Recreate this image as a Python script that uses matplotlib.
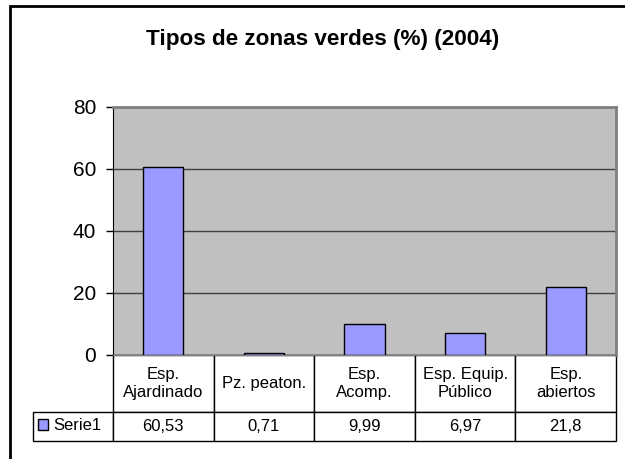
import matplotlib.pyplot as plt
from matplotlib.patches import Rectangle

categorias = ["Esp.\nAjardinado", "Pz. peaton.", "Esp.\nAcomp.", "Esp. Equip.\nPúblico", "Esp.\nabiertos"]
valores = [60.53, 0.71, 9.99, 6.97, 21.8]
etiquetas = ["60,53", "0,71", "9,99", "6,97", "21,8"]
serie = "Serie1"
yticks = [0, 20, 40, 60, 80]

plt.rcParams["font.family"] = ["Liberation Sans", "DejaVu Sans"]

fig = plt.figure(figsize=(6.25, 4.59), dpi=100)
ax = fig.add_axes([113 / 625, 1 - 355 / 459, 503 / 625, 248 / 459])

# outer chart frame (runs off the right/bottom of the picture)
fig.patches.append(Rectangle((10 / 625, -0.1), 1.2, 1.1 - 6 / 459, transform=fig.transFigure,
                             fill=False, edgecolor="black", linewidth=2))

ax.set_facecolor("#C0C0C0")
x = range(len(valores))
bars = ax.bar(x, valores, width=0.4, color="#9999FF", edgecolor="black", linewidth=1, zorder=3)
ax.set_xlim(-0.5, len(valores) - 0.5)
ax.set_ylim(0, 80)
ax.set_yticks(yticks)
ax.tick_params(axis="y", labelsize=15, length=5, width=1, direction="out", pad=7)
ax.set_xticks([])
ax.grid(axis="y", color="#404040", linewidth=1, zorder=1)
for s in ["top", "right"]:
    ax.spines[s].set_color("#808080")
    ax.spines[s].set_linewidth(2)
ax.spines["bottom"].set_color("#808080")
ax.spines["left"].set_color("black")

fig.text(323 / 625, 1 - 40 / 459, "Tipos de zonas verdes (%) (2004)", ha="center", va="center",
         fontsize=16.2, fontweight="bold")

# data table under the plot: first column holds the series key
tab = ax.table(cellText=[[""] + etiquetas], colLabels=[""] + categorias,
               cellLoc="center", bbox=[-80 / 503, -86 / 248, 583 / 503, 86 / 248])
tab.auto_set_font_size(False)
for (r, c), cell in tab.get_celld().items():
    cell.set_edgecolor("black")
    cell.set_linewidth(1)
    cell.get_text().set_fontsize(12)
    cell.set_width(80 if c == 0 else 100.6)
    cell.set_height(57 if r == 0 else 29)
    cell.set_facecolor("white")
tab[0, 0].visible_edges = ""
tab[0, 0].set_facecolor("none")

ax.legend([bars], [serie], loc="center left", bbox_to_anchor=(-78 / 503, -71 / 248),
          frameon=False, fontsize=12, handlelength=0.6, handleheight=0.6,
          handletextpad=0.3, borderaxespad=0, borderpad=0.2)

fig.savefig("out.png", dpi=100)
